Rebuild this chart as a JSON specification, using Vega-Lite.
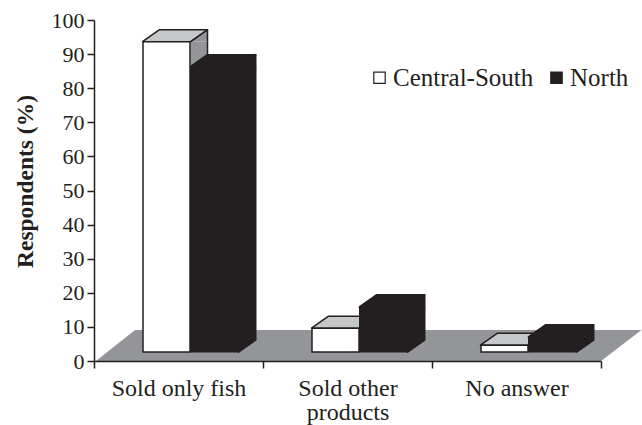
{
"$schema":"https://vega.github.io/schema/vega-lite/v6.json",
"width":507,"height":341,
"autosize":"none",
"padding":{"left":94,"top":20,"right":41,"bottom":64},
"background":"white",
"config":{"view":{"stroke":null},"font":"Liberation Serif"},
"datasets":{"bars":[
{"category":"Sold only fish","series":"Central-South","value":91},
{"category":"Sold only fish","series":"North","value":83.6},
{"category":"Sold other products","series":"Central-South","value":7},
{"category":"Sold other products","series":"North","value":13.2},
{"category":"No answer","series":"Central-South","value":2},
{"category":"No answer","series":"North","value":4.4}
],"floor":[{"category":"Sold other products","value":0}]},
"encoding":{
"x":{"field":"category","type":"nominal","sort":["Sold only fish","Sold other products","No answer"],
"scale":{"domain":["Sold only fish","Sold other products","No answer"],"paddingInner":0,"paddingOuter":0},
"axis":{"title":null,"labelAngle":0,"labelFont":"Liberation Serif","labelFontSize":24,"labelColor":"#231f20","labelPadding":8,"labelLineHeight":24,"tickBand":"extent","tickSize":7,"tickWidth":1.5,"tickColor":"#231f20","domainColor":"#231f20","domainWidth":1.5,"zindex":1,
"labelExpr":"datum.label=='Sold other products'?['Sold other','products']:datum.label"}},
"y":{"field":"value","type":"quantitative","stack":null,"scale":{"domain":[0,100],"nice":false},
"axis":{"title":"Respondents (%)","titleFont":"Liberation Serif","titleFontSize":23.5,"titleFontWeight":"bold","titleColor":"#231f20","titleX":-57,"titleY":161,"labelFont":"Liberation Serif","labelFontSize":22,"labelColor":"#231f20","labelPadding":3,"values":[0,10,20,30,40,50,60,70,80,90,100],"tickSize":7,"tickWidth":1.5,"tickColor":"#231f20","domainColor":"#231f20","domainWidth":1.5,"grid":false,"zindex":1}}
},
"layer":[
{"data":{"name":"floor"},"mark":{"type":"point","filled":true,"opacity":1,"fill":"#939598","stroke":null,"size":40000,"shape":"M-2.515,0L2.535,0L2.94,-.31L-2.125,-.31Z"}},
{"data":{"name":"bars"},"transform":[{"filter":"datum.series=='Central-South'"}],"layer":[
{"mark":{"type":"bar","width":17,"xOffset":20.5,"yOffset":-9,"y2Offset":-21,"fill":"#939598"},"encoding":{"y2":{"datum":0}}},
{"mark":{"type":"rule","xOffset":29,"yOffset":-9,"y2Offset":-21,"stroke":"#231f20","strokeWidth":1.5},"encoding":{"y2":{"datum":0}}},
{"mark":{"type":"point","filled":true,"opacity":1,"fill":"#939598","stroke":"#231f20","strokeWidth":1.5,"strokeJoin":"round","size":40000,"xOffset":12,"yOffset":-9,"shape":"M0,0L.17,-.12L.17,0"}},
{"mark":{"type":"point","filled":true,"opacity":1,"fill":"#c7c8ca","stroke":"#231f20","strokeWidth":1.5,"strokeJoin":"round","size":40000,"xOffset":-12,"yOffset":-9,"shape":"M-.24,0L.24,0L.41,-.12L-.07,-.12Z"}},
{"mark":{"type":"bar","width":47,"xOffset":-12,"yOffset":-9,"y2Offset":-9,"stroke":"#231f20","strokeWidth":1.5},
 "encoding":{"y2":{"datum":0},"fill":{"field":"series","type":"nominal","scale":{"domain":["Central-South","North"],"range":["#ffffff","#231f20"]},
 "legend":{"title":null,"orient":"none","legendX":273,"legendY":45,"direction":"horizontal","columns":2,"symbolType":"square","symbolSize":130,"symbolStrokeColor":"#231f20","symbolStrokeWidth":1.2,"labelFont":"Liberation Serif","labelFontSize":25,"labelColor":"#231f20","labelOffset":1,"columnPadding":10}}}}
]},
{"data":{"name":"bars"},"transform":[{"filter":"datum.series=='North'"}],"layer":[
{"mark":{"type":"point","filled":true,"opacity":1,"fill":"#231f20","stroke":"#231f20","strokeJoin":"round","size":40000,"xOffset":60,"yOffset":-9,"shape":"M.17,-.12L0,0L0,-.12Z"},"encoding":{"y":{"datum":0}}},
{"mark":{"type":"bar","width":18,"xOffset":69,"yOffset":-9,"y2Offset":-21,"fill":"#231f20"},"encoding":{"y2":{"datum":0}}},
{"mark":{"type":"point","filled":true,"opacity":1,"fill":"#231f20","stroke":"#231f20","strokeJoin":"round","size":40000,"xOffset":60,"yOffset":-9,"shape":"M0,0L.17,-.12L.17,0Z"}},
{"mark":{"type":"point","filled":true,"opacity":1,"fill":"#231f20","stroke":"#231f20","strokeJoin":"round","size":40000,"xOffset":36,"yOffset":-9,"shape":"M-.24,0L.24,0L.41,-.12L-.07,-.12Z"}},
{"mark":{"type":"bar","width":48,"xOffset":36,"yOffset":-9,"y2Offset":-9,"stroke":"#231f20"},
 "encoding":{"y2":{"datum":0},"fill":{"field":"series","type":"nominal"}}}
]}
]
}
